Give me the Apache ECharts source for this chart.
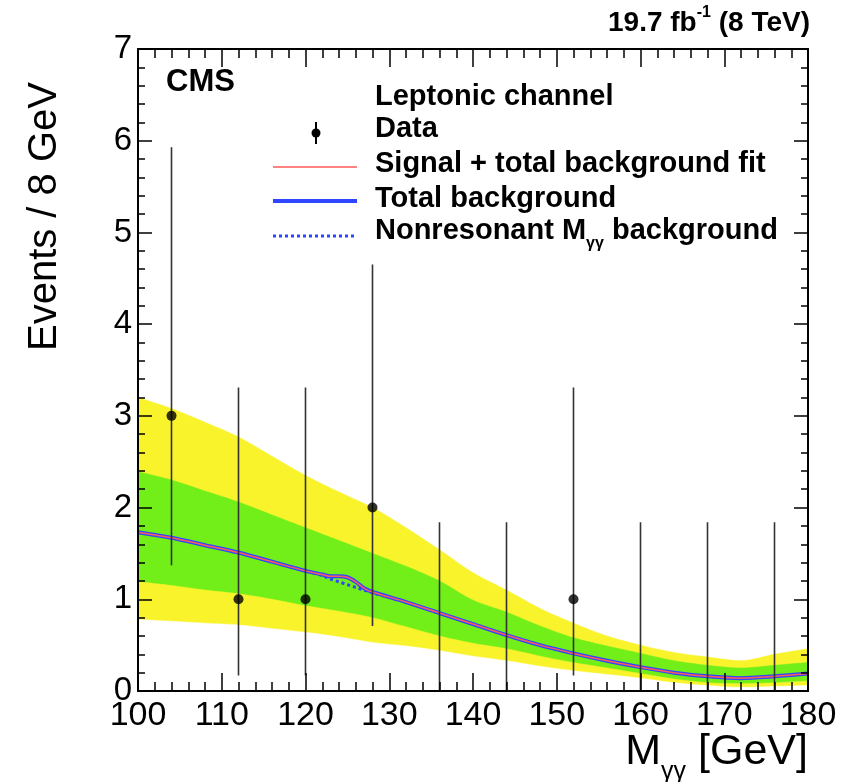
<!DOCTYPE html>
<html>
<head>
<meta charset="utf-8">
<script src="https://cdn.jsdelivr.net/npm/echarts@6/dist/echarts.min.js"></script>
<style>
  html, body { margin: 0; padding: 0; background: #fff; }
  #chart { width: 842px; height: 782px; }
</style>
</head>
<body>
<div id="chart"></div>
<script>
// data points (8 GeV bins)
var binCenters = [104, 112, 120, 128, 136, 144, 152, 160, 168, 176];
var dataCounts = [3, 1, 1, 2, 0, 0, 1, 0, 0, 0];
var errLow = [1.37, 0.17, 0.17, 0.71, 0, 0, 0.17, 0, 0, 0];
var errHigh = [5.93, 3.31, 3.31, 4.65, 1.84, 1.84, 3.31, 1.84, 1.84, 1.84];

// fit curves
var fitMass = [100, 104, 108, 112, 116, 120, 122, 123, 124, 125, 126, 127, 128, 132, 136, 140, 144, 148, 152, 156, 160, 164, 168, 172, 176, 180];
var sigBkgFit = [1.73, 1.67, 1.59, 1.51, 1.41, 1.31, 1.27, 1.25, 1.25, 1.24, 1.19, 1.12, 1.08, 0.97, 0.85, 0.73, 0.61, 0.50, 0.41, 0.33, 0.26, 0.20, 0.16, 0.14, 0.16, 0.19];
var totalBkg = [1.73, 1.67, 1.59, 1.51, 1.41, 1.31, 1.27, 1.25, 1.25, 1.24, 1.19, 1.12, 1.08, 0.97, 0.85, 0.73, 0.61, 0.50, 0.41, 0.33, 0.26, 0.20, 0.16, 0.14, 0.16, 0.19];
var nonresBkg = [1.73, 1.67, 1.59, 1.51, 1.41, 1.31, 1.26, 1.22, 1.19, 1.16, 1.13, 1.10, 1.07, 0.97, 0.85, 0.73, 0.61, 0.50, 0.41, 0.33, 0.26, 0.20, 0.16, 0.14, 0.16, 0.19];

// uncertainty bands (1 and 2 sigma edges)
var bandMass = [100, 104, 108, 112, 116, 120, 124, 128, 132, 136, 140, 144, 148, 152, 156, 160, 164, 168, 172, 176, 180];
var band2Lo = [0.78, 0.76, 0.74, 0.72, 0.68, 0.64, 0.59, 0.53, 0.49, 0.44, 0.38, 0.33, 0.27, 0.22, 0.18, 0.14, 0.09, 0.06, 0.04, 0.05, 0.06];
var band1Lo = [1.19, 1.15, 1.10, 1.06, 1.00, 0.93, 0.87, 0.80, 0.70, 0.60, 0.52, 0.46, 0.38, 0.31, 0.25, 0.19, 0.13, 0.09, 0.08, 0.09, 0.11];
var band1Hi = [2.39, 2.30, 2.18, 2.06, 1.92, 1.78, 1.64, 1.50, 1.36, 1.20, 0.99, 0.86, 0.71, 0.58, 0.49, 0.41, 0.33, 0.28, 0.25, 0.28, 0.31];
var band2Hi = [3.20, 3.08, 2.93, 2.77, 2.56, 2.35, 2.17, 2.00, 1.78, 1.54, 1.29, 1.10, 0.90, 0.74, 0.60, 0.50, 0.42, 0.37, 0.33, 0.40, 0.46];

var FONT = '"Liberation Sans", Arial, Helvetica, sans-serif';
var YELLOW = '#f8f32b';
var GREEN = '#72ee18';
var BLUE = '#2f45ff';
var RED = '#ff5a5a';

function pairs(xs, ys) {
  return xs.map(function (x, i) { return [x, ys[i]]; });
}

var chart = echarts.init(document.getElementById('chart'));

var axisCommon = {
  axisLine: { show: true, onZero: false, lineStyle: { color: '#000', width: 2 } },
  splitLine: { show: false },
  z: 10
};

function xAx(pos, showLabel) {
  return Object.assign({}, axisCommon, {
    type: 'value', position: pos, min: 100, max: 180, interval: 10,
    axisTick: { show: true, inside: true, length: 18, lineStyle: { color: '#000', width: 1.5 } },
    minorTick: { show: true, splitNumber: 5, length: 9, lineStyle: { color: '#000', width: 1.5 } },
    axisLabel: { show: showLabel, fontSize: 34, color: '#000', fontFamily: FONT, margin: 8 }
  });
}
function yAx(pos, showLabel) {
  return Object.assign({}, axisCommon, {
    type: 'value', position: pos, min: 0, max: 7, interval: 1,
    axisTick: { show: true, inside: true, length: 14, lineStyle: { color: '#000', width: 1.5 } },
    minorTick: { show: true, splitNumber: 5, length: 7, lineStyle: { color: '#000', width: 1.5 } },
    axisLabel: { show: showLabel, fontSize: 33, color: '#000', fontFamily: FONT, margin: 6 }
  });
}

// bands are painted from the outer edge inwards, each filled down to zero
function bandSeries(name, ys, color) {
  return {
    name: name, type: 'line', data: pairs(bandMass, ys), smooth: 0.3,
    symbol: 'none', lineStyle: { color: color, width: 0.5 },
    areaStyle: { color: color, opacity: 1, origin: 'start' },
    silent: true, z: 1
  };
}

var pointData = [];
binCenters.forEach(function (x, i) {
  if (dataCounts[i] > 0) pointData.push([x, dataCounts[i]]);
});

var legendFont = { fontSize: 29, fontWeight: 'bold', fontFamily: FONT, fill: '#000', verticalAlign: 'middle' };

chart.setOption({
  animation: false,
  backgroundColor: '#fff',
  grid: { left: 138, right: 34, top: 49, bottom: 91 },
  xAxis: [xAx('bottom', true), xAx('top', false)],
  yAxis: [yAx('left', true), yAx('right', false)],
  series: [
    bandSeries('2sigma up', band2Hi, YELLOW),
    bandSeries('1sigma up', band1Hi, GREEN),
    bandSeries('1sigma down', band1Lo, YELLOW),
    bandSeries('2sigma down', band2Lo, '#ffffff'),
    {
      name: 'Nonresonant', type: 'line', data: pairs(fitMass, nonresBkg), smooth: 0.3,
      symbol: 'none', lineStyle: { color: BLUE, width: 3, type: [3, 3] }, z: 3
    },
    {
      name: 'Total background', type: 'line', data: pairs(fitMass, totalBkg), smooth: 0.3,
      symbol: 'none', lineStyle: { color: BLUE, width: 4 }, z: 4
    },
    {
      name: 'Signal + total background fit', type: 'line', data: pairs(fitMass, sigBkgFit), smooth: 0.3,
      symbol: 'none', lineStyle: { color: RED, width: 1.5 }, z: 5
    },
    {
      name: 'errors', type: 'custom', z: 6,
      data: binCenters.map(function (x, i) { return [x, errLow[i], errHigh[i]]; }),
      encode: { x: 0, y: [1, 2] },
      renderItem: function (params, api) {
        var lo = api.coord([api.value(0), api.value(1)]);
        var hi = api.coord([api.value(0), api.value(2)]);
        return {
          type: 'line',
          shape: { x1: lo[0], y1: lo[1], x2: hi[0], y2: hi[1] },
          style: { stroke: '#333', lineWidth: 1.6 }
        };
      }
    },
    {
      name: 'Data', type: 'scatter', data: pointData, symbol: 'circle', symbolSize: 10,
      itemStyle: { color: '#000' }, z: 7
    }
  ],
  graphic: [
    {
      type: 'text', right: 32, top: 5,
      style: {
        text: '{b|19.7 fb}{s|-1}{b| (8 TeV)}',
        rich: {
          b: { fontSize: 28, fontWeight: 'bold', fontFamily: FONT, fill: '#000', lineHeight: 32, verticalAlign: 'bottom' },
          s: { fontSize: 16, fontWeight: 'bold', fontFamily: FONT, fill: '#000', lineHeight: 32, verticalAlign: 'top' }
        }
      }
    },
    {
      type: 'text', x: 166, y: 82,
      style: { text: 'CMS', fontSize: 31, fontWeight: 'bold', fontFamily: FONT, fill: '#000', verticalAlign: 'middle' }
    },
    {
      type: 'text', x: 45, y: 82, rotation: Math.PI / 2,
      style: { text: 'Events / 8 GeV', fontSize: 40, fontFamily: FONT, fill: '#000', align: 'right', verticalAlign: 'middle' }
    },
    {
      type: 'text', right: 34, top: 731,
      style: {
        text: '{m|M}{s|γγ}{m| [GeV]}',
        rich: {
          m: { fontSize: 43, fontFamily: FONT, fill: '#000', lineHeight: 54, verticalAlign: 'top' },
          s: { fontSize: 25, fontFamily: FONT, fill: '#000', lineHeight: 54, verticalAlign: 'bottom' }
        }
      }
    },
    // legend
    { type: 'text', x: 375, y: 97, style: Object.assign({ text: 'Leptonic channel' }, legendFont) },
    { type: 'line', shape: { x1: 316, y1: 122, x2: 316, y2: 144 }, style: { stroke: '#000', lineWidth: 2 } },
    { type: 'circle', shape: { cx: 316, cy: 133, r: 4.5 }, style: { fill: '#000' } },
    { type: 'text', x: 375, y: 129, style: Object.assign({ text: 'Data' }, legendFont) },
    { type: 'line', shape: { x1: 273, y1: 167, x2: 357, y2: 167 }, style: { stroke: RED, lineWidth: 1.5 } },
    { type: 'text', x: 375, y: 164, style: Object.assign({ text: 'Signal + total background fit' }, legendFont) },
    { type: 'line', shape: { x1: 273, y1: 201, x2: 357, y2: 201 }, style: { stroke: BLUE, lineWidth: 4 } },
    { type: 'text', x: 375, y: 199, style: Object.assign({ text: 'Total background' }, legendFont) },
    { type: 'line', shape: { x1: 273, y1: 236, x2: 357, y2: 236 }, style: { stroke: BLUE, lineWidth: 3, lineDash: [3, 3] } },
    {
      type: 'text', x: 375, y: 234,
      style: {
        text: '{m|Nonresonant M}{s|γγ}{m| background}', verticalAlign: 'middle',
        rich: {
          m: { fontSize: 29, fontWeight: 'bold', fontFamily: FONT, fill: '#000', lineHeight: 36, verticalAlign: 'top' },
          s: { fontSize: 16, fontWeight: 'bold', fontFamily: FONT, fill: '#000', lineHeight: 36, verticalAlign: 'bottom' }
        }
      }
    }
  ]
});
</script>
</body>
</html>
